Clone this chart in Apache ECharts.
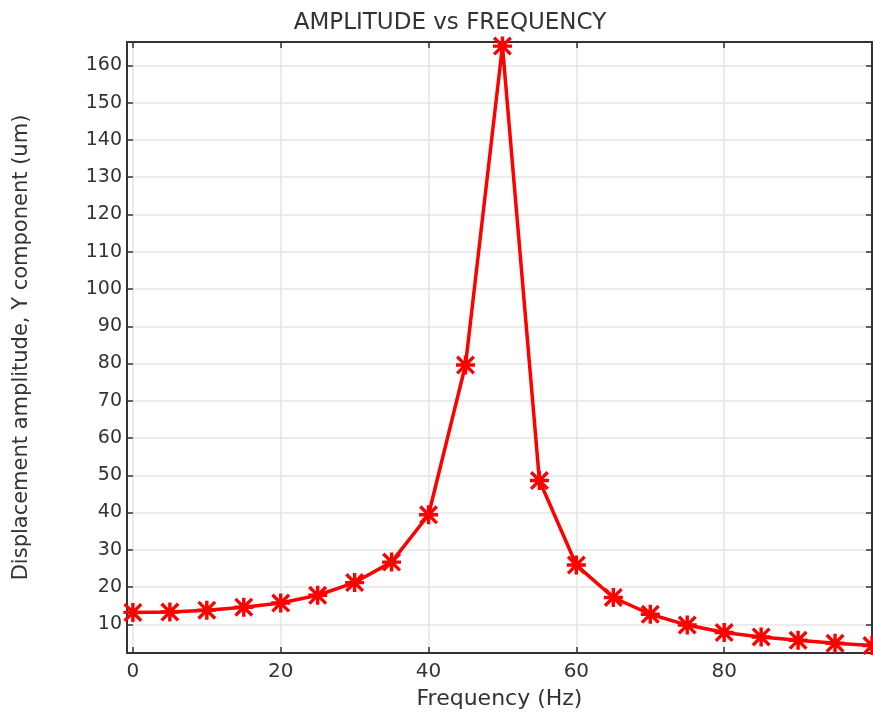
<!DOCTYPE html>
<html>
<head>
<meta charset="utf-8">
<script src="https://cdn.jsdelivr.net/npm/echarts@6/dist/echarts.min.js"></script>
<style>
  html, body { margin: 0; padding: 0; background: #fff; }
</style>
</head>
<body>
<div id="myChart" style="width: 873px; height: 712px"></div>
<script>
// 频率 (Hz) 与位移幅值 (um)
const frequency = [0, 5, 10, 15, 20, 25, 30, 35, 40, 45, 50, 55, 60, 65, 70, 75, 80, 85, 90, 95, 100];
const amplitude = [13.2, 13.3, 13.8, 14.6, 15.7, 17.8, 21.2, 26.7, 39.4, 79.6, 165.2, 48.6, 25.9, 17.2, 12.7, 9.8, 7.8, 6.6, 5.7, 4.9, 4.3];
const xTicks = [0, 20, 40, 60, 80];
const yTicks = [10, 20, 30, 40, 50, 60, 70, 80, 90, 100, 110, 120, 130, 140, 150, 160];

const font = 'DejaVu Sans';
// 星号标记
const asterisk = 'path://M8.2 0h3.6v20h-3.6z M0 8.2h20v3.6h-20z M2.5 0L20 17.5L17.5 20L0 2.5z M17.5 0L20 2.5L2.5 20L0 17.5z';

const chart = echarts.init(document.getElementById('myChart'));

const frame = {
  axisLine: { show: true, onZero: false, lineStyle: { color: '#333', width: 2 } },
  axisTick: { show: true, inside: true, length: 6, lineStyle: { color: '#333', width: 1.5 } },
};

const option = {
  animation: false,
  title: {
    text: 'AMPLITUDE vs FREQUENCY',
    left: 445,
    top: 7,
    textAlign: 'center',
    textStyle: { fontFamily: font, fontSize: 23, fontWeight: 'normal', color: '#333' },
  },
  grid: { left: 127, right: 1, top: 42, bottom: 59, containLabel: false, outerBoundsMode: 'none' },
  xAxis: [
    {
      type: 'value',
      min: -0.8,
      max: 100,
      name: 'Frequency (Hz)',
      nameLocation: 'middle',
      nameGap: 35,
      nameTextStyle: { fontFamily: font, fontSize: 22, color: '#333' },
      axisLine: frame.axisLine,
      axisTick: { ...frame.axisTick, customValues: xTicks },
      axisLabel: { customValues: xTicks, fontFamily: font, fontSize: 20, color: '#333', margin: 9 },
      splitLine: { show: true, lineStyle: { color: '#e4e4e4', width: 1.5 } },
    },
    {
      type: 'value',
      position: 'top',
      min: -0.8,
      max: 100,
      axisLine: frame.axisLine,
      axisTick: { ...frame.axisTick, customValues: xTicks },
      axisLabel: { show: false },
      splitLine: { show: false },
    },
  ],
  yAxis: [
    {
      type: 'value',
      min: 2.3,
      max: 166.3,
      name: 'Displacement amplitude, Y component (um)',
      nameLocation: 'middle',
      nameGap: 95,
      nameTextStyle: { fontFamily: font, fontSize: 21, color: '#333' },
      axisLine: frame.axisLine,
      axisTick: { ...frame.axisTick, customValues: yTicks },
      axisLabel: { customValues: yTicks, fontFamily: font, fontSize: 19, color: '#333', margin: 5 },
      splitLine: { show: true, lineStyle: { color: '#e4e4e4', width: 1.5 } },
    },
    {
      type: 'value',
      position: 'right',
      min: 2.3,
      max: 166.3,
      axisLine: frame.axisLine,
      axisTick: { ...frame.axisTick, customValues: yTicks },
      axisLabel: { show: false },
      splitLine: { show: false },
    },
  ],
  series: [
    {
      type: 'line',
      data: frequency.map((f, i) => [f, amplitude[i]]),
      symbol: asterisk,
      symbolSize: 19,
      showAllSymbol: true,
      clip: true,
      lineStyle: { color: '#ff0000', width: 3.5 },
      itemStyle: { color: '#ff0000' },
    },
  ],
};

chart.setOption(option);
</script>
</body>
</html>
